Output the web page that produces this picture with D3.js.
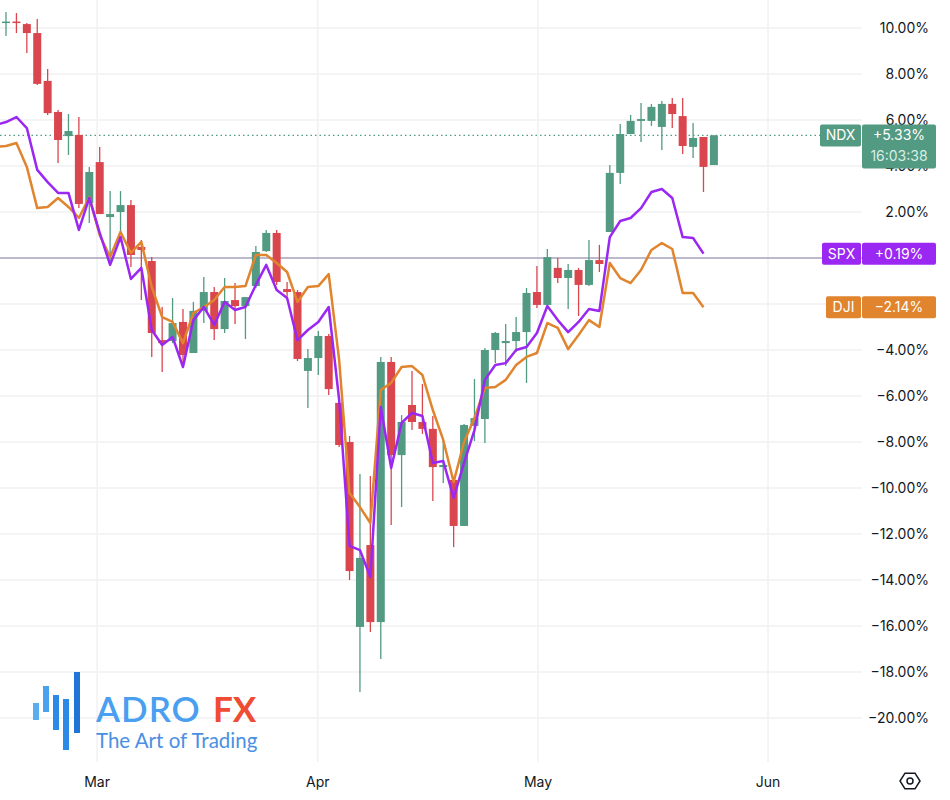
<!DOCTYPE html>
<html><head><meta charset="utf-8">
<script src="https://cdn.jsdelivr.net/npm/d3@7"></script>
<style>body{margin:0;background:#fff;font-family:Inter,"Noto Sans",sans-serif}</style>
</head><body><svg id="c" width="950" height="800"></svg>
<script>
// NDX candles (% change): [open, high, low, close], index 1..69
const ndxOpen  = [10.24,10.28,10.17,9.78,7.70,6.35,5.30,5.35,2.39,4.17,1.78,2.00,2.30,0.48,-0.13,-3.57,-3.61,-2.78,-4.13,-2.30,-1.48,-3.09,-1.83,-2.09,-1.22,0.30,1.09,-1.35,-1.48,-4.91,-4.35,-3.39,-6.30,-8.00,-16.04,-12.48,-15.83,-4.52,-8.57,-6.39,-7.13,-7.43,-9.09,-9.65,-11.65,-7.30,-7.00,-4.00,-3.70,-3.61,-3.22,-1.48,-2.04,-0.43,-0.87,-0.52,-1.17,-0.09,1.13,3.70,5.39,5.96,5.96,5.70,6.70,6.17,4.83,5.26,4.04];
const ndxHigh  = [10.70,10.65,10.22,10.39,8.22,6.43,6.26,6.13,3.96,4.83,2.91,2.91,2.52,0.78,0.04,-2.13,-1.74,-2.22,-1.91,-0.83,-1.26,-0.87,-1.09,-1.70,0.52,1.22,1.22,-1.04,-1.39,-3.96,-3.17,-3.30,-6.17,-7.74,-9.39,-9.48,-4.30,-4.30,-6.83,-4.91,-5.48,-6.87,-7.83,-9.57,-7.22,-5.26,-3.91,-3.22,-2.87,-2.57,-1.30,-0.35,0.39,0.00,-0.26,-0.43,0.78,0.57,4.04,5.83,6.22,6.74,6.70,6.83,6.96,6.96,5.87,5.26,5.35];
const ndxLow   = [9.65,9.78,8.91,7.52,6.22,4.13,4.48,2.17,1.52,1.91,-0.22,1.09,-0.39,-1.83,-4.30,-4.96,-3.70,-4.74,-4.13,-2.83,-3.57,-3.26,-2.87,-3.52,-1.30,0.26,-1.17,-1.83,-4.48,-6.52,-5.09,-5.96,-8.22,-14.00,-18.87,-16.26,-17.43,-11.61,-10.83,-7.48,-7.65,-10.57,-9.78,-12.57,-11.65,-7.96,-8.04,-4.57,-4.70,-4.09,-5.43,-2.17,-2.04,-1.09,-2.22,-2.52,-1.22,-0.61,1.13,3.22,5.39,5.04,5.74,4.70,5.65,4.52,4.35,2.87,4.04];
const ndxClose = [10.28,10.24,9.78,7.57,6.30,5.13,5.52,2.35,3.74,1.91,1.91,2.30,0.13,0.35,-3.26,-3.70,-2.83,-4.22,-2.30,-1.48,-3.09,-1.87,-2.09,-1.70,0.26,1.09,-1.04,-1.48,-4.39,-4.35,-3.39,-5.70,-8.13,-13.61,-13.04,-15.83,-4.52,-8.57,-7.13,-7.13,-7.43,-9.09,-9.00,-11.65,-7.26,-6.96,-4.00,-3.26,-3.61,-3.22,-1.52,-2.04,0.04,-0.87,-0.52,-1.17,-0.09,-0.26,3.70,5.39,5.96,6.04,6.57,6.70,6.26,4.87,5.22,3.96,5.33];
// SPX and DJI closes (% change), index 0..68
const spx = [5.78,5.91,6.13,5.65,3.83,3.30,2.83,2.83,1.22,2.61,1.09,-0.30,0.91,-0.91,-0.43,-3.13,-3.78,-3.43,-4.74,-2.70,-2.13,-2.91,-1.91,-2.26,-2.13,-1.17,-0.30,-1.39,-1.74,-3.57,-3.13,-2.78,-2.13,-6.17,-12.52,-12.70,-13.87,-6.48,-9.13,-7.17,-6.74,-6.87,-8.91,-8.83,-10.43,-8.91,-7.48,-5.30,-4.65,-4.57,-4.00,-3.87,-3.26,-2.09,-2.70,-3.22,-2.78,-2.22,-2.30,0.91,1.61,1.74,2.17,2.87,3.00,2.61,0.91,0.87,0.19];
const dji = [4.83,4.87,5.00,3.96,2.17,2.22,2.61,2.22,1.74,2.65,1.00,0.04,1.13,0.22,0.70,-1.26,-2.57,-2.78,-3.70,-2.39,-2.13,-1.83,-1.26,-1.26,-1.22,0.13,0.13,-0.22,-0.61,-1.91,-1.26,-1.22,-0.70,-4.43,-10.22,-10.83,-11.52,-5.74,-5.43,-4.74,-4.70,-5.09,-6.61,-7.91,-9.74,-8.00,-6.96,-5.65,-5.61,-5.30,-4.65,-4.30,-4.13,-2.83,-3.04,-3.96,-3.35,-2.70,-3.00,-0.22,-0.87,-1.09,-0.52,0.35,0.65,0.39,-1.52,-1.52,-2.14];
const monthLabels = ["Mar","Apr","May","Jun"];
const monthPos = [9.75,30.95,52.1,74.2];
const gridTicks = [10,8,6,4,2,-2,-4,-6,-8,-10,-12,-14,-16,-18,-20];
const yTicks = [10,8,6,4,2,-4,-6,-8,-10,-12,-14,-16,-18,-20];

const svg = d3.select("#c");
const up="#529a82", down="#d9464d", purple="#9b27f2", orange="#e0842e";
const x = d3.scaleLinear().domain([0,69]).range([-4.4,713.9]);
const y = d3.scaleLinear().domain([10,-20]).range([28,718]);
const W = 862, H = 762;
const g = svg.append("g");
g.selectAll(".hg").data(gridTicks).join("line").attr("x1",0).attr("x2",W)
 .attr("y1",d=>y(d)).attr("y2",d=>y(d)).attr("stroke","#f0f1f3").attr("stroke-width",1.5);
g.selectAll(".vg").data(monthPos).join("line").attr("x1",d=>x(d)).attr("x2",d=>x(d))
 .attr("y1",0).attr("y2",H).attr("stroke","#f0f1f3").attr("stroke-width",1.5);
// logo
const logo = svg.append("g");
const bars=[[33,703,720,"#5aaef0"],[43,686,712,"#4aa2ee"],[53,695,730,"#2a8ae6"],[63,699,750,"#2a8ae6"],[74,672,733,"#1f76d6"]];
logo.selectAll("rect").data(bars).join("rect").attr("x",d=>d[0]).attr("y",d=>d[1]).attr("width",6).attr("height",d=>d[2]-d[1]).attr("fill",d=>d[3]);
logo.append("text").attr("x",96).attr("y",722).attr("font-size",35).attr("font-weight",600).attr("letter-spacing",1).attr("fill","#4a9ff0").attr("font-family","Lato,sans-serif").text("ADRO");
logo.append("text").attr("x",213).attr("y",722).attr("font-size",35).attr("font-weight",700).attr("fill","#f04b35").attr("font-family","Lato,sans-serif").text("FX");
logo.append("text").attr("x",96).attr("y",748).attr("font-size",20.5).attr("fill","#4a90e2").attr("font-family","Lato,sans-serif").text("The Art of Trading");
// zero line & last price line
g.append("line").attr("x1",0).attr("x2",W).attr("y1",y(0)).attr("y2",y(0)).attr("stroke","#a6a2bd").attr("stroke-width",1.3);
g.append("line").attr("x1",0).attr("x2",W).attr("y1",y(5.33)).attr("y2",y(5.33)).attr("stroke",up).attr("stroke-dasharray","1.5,3").attr("stroke-width",1.2);
// candles
const cd = ndxOpen.map((o,k)=>({i:k+1,o,h:ndxHigh[k],l:ndxLow[k],c:ndxClose[k]}));
const cg = g.append("g");
cg.selectAll(".w").data(cd).join("line").attr("x1",d=>x(d.i)).attr("x2",d=>x(d.i))
 .attr("y1",d=>y(d.h)).attr("y2",d=>y(d.l)).attr("stroke",d=>d.c>=d.o?up:down).attr("stroke-width",1.3);
cg.selectAll(".b").data(cd).join("rect").attr("x",d=>x(d.i)-4).attr("width",8)
 .attr("y",d=>y(Math.max(d.o,d.c))).attr("height",d=>Math.max(1.5,Math.abs(y(d.o)-y(d.c))))
 .attr("fill",d=>d.c>=d.o?up:down);
// lines
const line = d3.line().x((d,i)=>x(i)).y(d=>y(d));
g.append("path").datum(dji).attr("d",line).attr("fill","none").attr("stroke",orange).attr("stroke-width",2.5).attr("stroke-linejoin","round");
g.append("path").datum(spx).attr("d",line).attr("fill","none").attr("stroke",purple).attr("stroke-width",2.5).attr("stroke-linejoin","round");
// y axis labels
svg.selectAll(".yl").data(yTicks).join("text").attr("x",929).attr("y",d=>y(d)+5).attr("text-anchor","end")
 .attr("font-size",14).attr("fill","#131722").text(d=>(d<0?"\u2212":"")+Math.abs(d).toFixed(2)+"%");
svg.selectAll(".xl").data(monthLabels).join("text").attr("x",(d,i)=>x(monthPos[i])).attr("y",787).attr("text-anchor","middle")
 .attr("font-size",14).attr("fill","#131722").text(d=>d);
// settings icon
svg.append("path").attr("d",d3.line()(d3.range(6).map(k=>[910+10*Math.cos(k*Math.PI/3),781+9*Math.sin(k*Math.PI/3)]))+"Z")
 .attr("fill","none").attr("stroke","#131722").attr("stroke-width",1.5);
svg.append("circle").attr("cx",910).attr("cy",781).attr("r",3).attr("fill","none").attr("stroke","#131722").attr("stroke-width",1.5);
function tag(name,val,col,v,l1,l2){
  const yy=y(v);
  const gg=svg.append("g");
  gg.append("rect").attr("x",l1).attr("y",yy-11).attr("width",861-l1).attr("height",22).attr("rx",2).attr("fill",col);
  gg.append("text").attr("x",(l1+861)/2).attr("y",yy+5).attr("text-anchor","middle").attr("font-size",14).attr("fill","#fff").text(name);
  gg.append("rect").attr("x",862).attr("y",yy-11).attr("width",74).attr("height",l2?44:22).attr("rx",2).attr("fill",col);
  gg.append("text").attr("x",899).attr("y",yy+5).attr("text-anchor","middle").attr("font-size",14).attr("fill","#fff").text(val);
  if(l2) gg.append("text").attr("x",899).attr("y",yy+26).attr("text-anchor","middle").attr("font-size",14).attr("fill","#d8eee6").text(l2);
}
tag("NDX","+5.33%",up,5.33,820,"16:03:38");
tag("SPX","+0.19%",purple,0.19,822,null);
tag("DJI","\u22122.14%",orange,-2.14,826,null);
</script></body></html>
